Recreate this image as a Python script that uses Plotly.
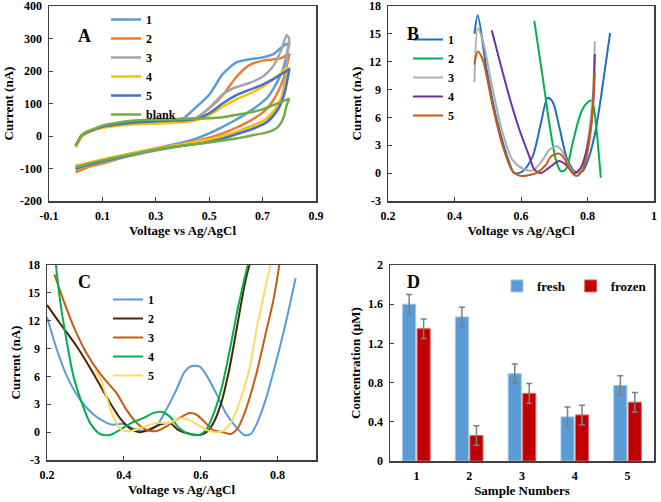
import plotly.graph_objects as go

FONT = "Liberation Serif"

# ---------------- Panel A: cyclic voltammograms ----------------
A_labels = ["1", "2", "3", "4", "5", "blank"]
A_colors = ["#5B9BD5", "#ED7D31", "#A5A5A5", "#FFC000", "#4472C4", "#70AD47"]
A_v_fwd = [0, 0.01, 0.02, 0.04, 0.07, 0.1, 0.15, 0.2, 0.25, 0.3, 0.35, 0.4, 0.45,
           0.5, 0.55, 0.6, 0.65, 0.7, 0.74, 0.77, 0.79, 0.8]
A_v_rev = [0.8, 0.79, 0.78, 0.76, 0.74, 0.72, 0.7, 0.65, 0.6, 0.55, 0.5, 0.45, 0.4,
           0.3, 0.2, 0.1, 0.05, 0.02, 0]
A1_fwd = [-30, -15, 0, 12, 22, 30, 38, 44, 48, 50, 51, 53, 88, 127, 190, 226, 236, 242, 252, 272, 283, 285]
A2_fwd = [-32, -17, -2, 10, 20, 28, 36, 42, 46, 48, 50, 52, 55, 85, 125, 180, 218, 232, 236, 240, 248, 250]
A3_fwd = [-30, -15, 0, 11, 21, 29, 37, 43, 47, 49, 51, 53, 56, 86, 128, 150, 163, 182, 215, 265, 310, 300]
A4_fwd = [-35, -20, -5, 8, 18, 25, 31, 35, 37, 38, 40, 42, 48, 65, 90, 112, 130, 152, 175, 195, 210, 208]
A5_fwd = [-30, -15, 0, 10, 20, 28, 35, 40, 43, 45, 47, 48, 52, 70, 100, 125, 142, 158, 175, 190, 200, 205]
Ab_fwd = [-30, -15, 0, 12, 22, 32, 40, 46, 49, 50, 51, 52, 53, 55, 58, 65, 72, 82, 95, 105, 112, 115]
A1_rev = [285, 250, 215, 175, 145, 120, 105, 75, 50, 28, 8, -8, -20, -38, -55, -75, -85, -95, -100]
A2_rev = [250, 215, 180, 140, 110, 88, 72, 45, 25, 8, -5, -15, -25, -42, -60, -85, -95, -105, -112]
A3_rev = [300, 230, 150, 95, 70, 55, 45, 28, 12, 0, -12, -22, -30, -45, -62, -80, -90, -98, -105]
A4_rev = [208, 175, 140, 100, 75, 58, 45, 25, 12, 0, -10, -18, -25, -38, -55, -72, -82, -88, -90]
A5_rev = [205, 160, 125, 85, 62, 45, 35, 18, 5, -8, -18, -25, -30, -42, -60, -78, -88, -95, -100]
Ab_rev = [115, 95, 60, 30, 18, 12, 8, 0, -8, -14, -20, -25, -30, -42, -58, -75, -85, -92, -95]
A_fwd = [A1_fwd, A2_fwd, A3_fwd, A4_fwd, A5_fwd, Ab_fwd]
A_rev = [A1_rev, A2_rev, A3_rev, A4_rev, A5_rev, Ab_rev]
A_xticks = [-0.1, 0.1, 0.3, 0.5, 0.7, 0.9]
A_xticktext = ["-0.1", "0.1", "0.3", "0.5", "0.7", "0.9"]
A_yticks = [-200, -100, 0, 100, 200, 300, 400]
A_yticktext = ["-200", "-100", "0", "100", "200", "300", "400"]

# ---------------- Panel B: DPV curves ----------------
B_labels = ["1", "2", "3", "4", "5"]
B_colors = ["#1F6FBF", "#00B050", "#ADADAD", "#7030A0", "#C55A11"]
B_v1 = [0.46, 0.47, 0.495, 0.525, 0.555, 0.58, 0.605, 0.635, 0.66, 0.68, 0.695, 0.715, 0.74, 0.765, 0.785, 0.805, 0.825, 0.845, 0.868]
B_i1 = [15.0, 17.0, 11.5, 6.1, 2.2, 0.0, 0.2, 1.8, 5.4, 8.1, 7.7, 5.0, 1.4, 0.1, 0.2, 1.8, 4.7, 9.3, 15.1]
B_v2 = [0.64, 0.665, 0.685, 0.705, 0.72, 0.735, 0.755, 0.78, 0.8, 0.813, 0.822, 0.84]
B_i2 = [16.4, 10.4, 5.4, 1.4, 0.2, 0.4, 3.2, 6.5, 7.6, 7.8, 6.3, -0.5]
B_v3 = [0.46, 0.47, 0.485, 0.515, 0.545, 0.575, 0.605, 0.635, 0.665, 0.685, 0.708, 0.725, 0.745, 0.765, 0.785, 0.8, 0.815, 0.822]
B_i3 = [9.8, 15.6, 14.3, 9.0, 4.3, 1.4, 0.5, 0.3, 1.4, 2.5, 2.9, 2.3, 0.7, 0.0, 0.5, 3.2, 7.9, 14.2]
B_v4 = [0.512, 0.535, 0.565, 0.595, 0.625, 0.64, 0.66, 0.685, 0.715, 0.735, 0.76, 0.78, 0.8, 0.815, 0.822]
B_i4 = [15.4, 12.2, 8.2, 4.7, 1.8, 0.4, 0.0, 0.6, 1.3, 0.9, 0.0, 0.6, 2.9, 6.5, 12.8]
B_v5 = [0.46, 0.47, 0.485, 0.515, 0.545, 0.575, 0.6, 0.625, 0.645, 0.675, 0.69, 0.715, 0.73, 0.75, 0.767, 0.785, 0.803, 0.815, 0.822]
B_i5 = [11.7, 13.1, 12.2, 7.2, 2.9, 0.2, -0.3, -0.2, 0.0, 0.9, 1.8, 2.1, 1.6, 0.2, -0.3, 0.3, 2.9, 6.5, 10.8]
B_v = [B_v1, B_v2, B_v3, B_v4, B_v5]
B_i = [B_i1, B_i2, B_i3, B_i4, B_i5]
B_xticks = [0.2, 0.4, 0.6, 0.8, 1.0]
B_xticktext = ["0.2", "0.4", "0.6", "0.8", "1"]
BC_yticks = [-3, 0, 3, 6, 9, 12, 15, 18]
BC_yticktext = ["-3", "0", "3", "6", "9", "12", "15", "18"]

# ---------------- Panel C: DPV curves ----------------
C_labels = ["1", "2", "3", "4", "5"]
C_colors = ["#5B9BD5", "#4A2506", "#C55A11", "#00B050", "#FFD966"]
C_v1 = [0.2, 0.226, 0.252, 0.286, 0.321, 0.355, 0.372, 0.398, 0.424, 0.459, 0.484, 0.51, 0.536, 0.558, 0.575,
        0.597, 0.614, 0.64, 0.666, 0.691, 0.713, 0.73, 0.747, 0.769, 0.795, 0.821, 0.847]
C_i1 = [12.4, 8.85, 6.0, 3.5, 1.9, 1.0, 0.8, 0.9, 0.4, 0.1, 0.6, 2.4, 4.5, 6.5, 7.1,
        7.05, 6.2, 4.2, 2.0, 0.6, -0.3, -0.2, 1.0, 3.5, 7.4, 11.7, 16.6]
C_v2 = [0.2, 0.234, 0.278, 0.321, 0.355, 0.39, 0.416, 0.441, 0.467, 0.493, 0.519, 0.541, 0.562, 0.597, 0.618,
        0.635, 0.653, 0.674, 0.696, 0.717, 0.74]
C_i2 = [13.7, 11.7, 9.2, 6.3, 3.8, 1.5, 0.4, 0.0, 0.3, 0.8, 1.0, 0.25, -0.1, -0.3, 0.1,
        1.15, 3.1, 6.7, 11.7, 16.4, 20.0]
C_v3 = [0.219, 0.243, 0.269, 0.303, 0.338, 0.381, 0.407, 0.433, 0.459, 0.484, 0.51, 0.536, 0.571, 0.588, 0.609,
        0.631, 0.657, 0.678, 0.696, 0.717, 0.743, 0.769, 0.791, 0.81]
C_i3 = [17.0, 14.2, 11.4, 8.5, 6.3, 4.2, 2.4, 1.0, 0.25, 0.1, 0.6, 1.3, 2.05, 1.9, 1.15,
        0.25, 0.0, -0.2, 0.4, 2.4, 6.0, 10.6, 14.6, 19.5]
C_v4 = [0.218, 0.234, 0.252, 0.269, 0.291, 0.312, 0.338, 0.364, 0.39, 0.42, 0.45, 0.476, 0.497, 0.519, 0.545,
        0.571, 0.597, 0.614, 0.631, 0.653, 0.674, 0.696, 0.717, 0.732]
C_i4 = [20.0, 14.2, 9.6, 6.0, 3.1, 1.0, -0.2, -0.3, 0.25, 1.0, 1.5, 2.05, 2.2, 1.7, 0.4,
        -0.2, -0.3, 0.25, 1.7, 4.5, 8.5, 13.2, 17.1, 19.5]
C_v5 = [0.323, 0.338, 0.355, 0.372, 0.394, 0.416, 0.441, 0.467, 0.493, 0.519, 0.549, 0.571, 0.592, 0.614, 0.635,
        0.657, 0.678, 0.7, 0.726, 0.747, 0.769, 0.79]
C_i5 = [6.7, 5.8, 3.8, 1.7, 0.25, 0.1, 0.4, 0.8, 1.0, 1.0, 1.5, 1.3, 0.8, 0.25, 0.0,
        0.1, 1.0, 3.1, 6.7, 11.4, 15.7, 19.5]
C_v = [C_v1, C_v2, C_v3, C_v4, C_v5]
C_i = [C_i1, C_i2, C_i3, C_i4, C_i5]
C_xticks = [0.2, 0.4, 0.6, 0.8]
C_xticktext = ["0.2", "0.4", "0.6", "0.8"]

# ---------------- Panel D: concentrations ----------------
D_samples = [1, 2, 3, 4, 5]
D_fresh = [1.60, 1.47, 0.89, 0.45, 0.77]
D_frozen = [1.35, 0.26, 0.69, 0.47, 0.60]
D_fresh_err = [0.10, 0.10, 0.10, 0.10, 0.10]
D_frozen_err = [0.10, 0.10, 0.10, 0.10, 0.10]
D_yticks = [0, 0.4, 0.8, 1.2, 1.6, 2]
D_yticktext = ["0", "0.4", "0.8", "1.2", "1.6", "2"]

W, H = 661, 502


def fx(px):
    return px / W


def fy(py):
    return 1 - py / H


fig = go.Figure()

for lab, col, f, r in zip(A_labels, A_colors, A_fwd, A_rev):
    fig.add_trace(go.Scatter(x=A_v_fwd + A_v_rev, y=f + r, mode="lines", name=lab,
                             line=dict(color=col, width=2.5, shape="spline", smoothing=0.6),
                             xaxis="x", yaxis="y", legend="legend"))

for lab, col, v, i in zip(B_labels, B_colors, B_v, B_i):
    fig.add_trace(go.Scatter(x=v, y=i, mode="lines", name=lab,
                             line=dict(color=col, width=2, shape="spline", smoothing=0.8),
                             xaxis="x2", yaxis="y2", legend="legend2"))

for lab, col, v, i in zip(C_labels, C_colors, C_v, C_i):
    fig.add_trace(go.Scatter(x=v, y=i, mode="lines", name=lab,
                             line=dict(color=col, width=2, shape="spline", smoothing=0.8),
                             xaxis="x3", yaxis="y3", legend="legend3"))

fig.add_trace(go.Bar(x=D_samples, y=D_fresh, name="fresh", marker=dict(color="#5B9BD5", line=dict(color="#9DC3E6", width=1)),
                     error_y=dict(type="data", array=D_fresh_err, color="#7F7F7F", thickness=1.5, width=3),
                     xaxis="x4", yaxis="y4", legend="legend4"))
fig.add_trace(go.Bar(x=D_samples, y=D_frozen, name="frozen", marker=dict(color="#C00000", line=dict(color="#E06666", width=1)),
                     error_y=dict(type="data", array=D_frozen_err, color="#7F7F7F", thickness=1.5, width=3),
                     xaxis="x4", yaxis="y4", legend="legend4"))

tickfont = dict(family=FONT, size=12, color="black", weight="bold")
titlefont = dict(family=FONT, size=13, color="black", weight="bold")


def axis(**kw):
    d = dict(showline=True, mirror=True, linecolor="#404040", linewidth=1.5,
             ticks="inside", ticklen=4, tickcolor="#404040", tickwidth=1,
             showgrid=False, zeroline=False, tickfont=tickfont, ticklabelstandoff=3,
             automargin=False, ticklabeloverflow="allow")
    d.update(kw)
    return d


fig.update_layout(
    template="none",
    width=W, height=H, margin=dict(l=0, r=0, t=0, b=0, autoexpand=False),
    paper_bgcolor="white", plot_bgcolor="white",
    font=dict(family=FONT, size=12, color="black", weight="bold"),
    hovermode=False,
    barmode="group", bargap=0.45, bargroupgap=0.1,
    xaxis=axis(domain=[fx(49), fx(316)], range=[-0.1, 0.9], tickvals=A_xticks, ticktext=A_xticktext,
               anchor="y", title=dict(text="Voltage vs Ag/AgCl", font=titlefont, standoff=4)),
    yaxis=axis(domain=[fy(201), fy(6)], range=[-200, 400], tickvals=A_yticks, ticktext=A_yticktext,
               anchor="x", title=dict(text="Current (nA)", font=titlefont, standoff=3)),
    xaxis2=axis(domain=[fx(388), fx(654)], range=[0.2, 1.0], tickvals=B_xticks, ticktext=B_xticktext,
                anchor="y2", title=dict(text="Voltage vs Ag/AgCl", font=titlefont, standoff=4)),
    yaxis2=axis(domain=[fy(201), fy(6)], range=[-3, 18], tickvals=BC_yticks, ticktext=BC_yticktext,
                anchor="x2", title=dict(text="Current (nA)", font=titlefont, standoff=4)),
    xaxis3=axis(domain=[fx(47), fx(316)], range=[0.2, 0.9], tickvals=C_xticks, ticktext=C_xticktext,
                anchor="y3", title=dict(text="Voltage vs Ag/AgCl", font=titlefont, standoff=4)),
    yaxis3=axis(domain=[fy(460), fy(265)], range=[-3, 18], tickvals=BC_yticks, ticktext=BC_yticktext,
                anchor="x3", title=dict(text="Current (nA)", font=titlefont, standoff=4)),
    xaxis4=axis(domain=[fx(390), fx(654)], range=[0.5, 5.5], tickvals=D_samples, ticktext=[str(s) for s in D_samples],
                ticks="", anchor="y4", title=dict(text="Sample Numbers", font=titlefont, standoff=4)),
    yaxis4=axis(domain=[fy(461), fy(265)], range=[0, 2], tickvals=D_yticks, ticktext=D_yticktext,
                anchor="x4", title=dict(text="Concentration (µM)", font=titlefont, standoff=4)),
    legend=dict(x=fx(106), y=fy(5), xanchor="left", yanchor="top", bgcolor="rgba(0,0,0,0)",
                font=dict(family=FONT, size=12, weight="bold"), itemwidth=30, tracegroupgap=0),
    legend2=dict(x=fx(408), y=fy(25), xanchor="left", yanchor="top", bgcolor="rgba(0,0,0,0)",
                 font=dict(family=FONT, size=12, weight="bold"), itemwidth=30, tracegroupgap=0),
    legend3=dict(x=fx(108), y=fy(285), xanchor="left", yanchor="top", bgcolor="rgba(0,0,0,0)",
                 font=dict(family=FONT, size=12, weight="bold"), itemwidth=30, tracegroupgap=0),
    legend4=dict(x=fx(652), y=fy(286), xanchor="right", yanchor="middle", orientation="h",
                 bgcolor="rgba(0,0,0,0)", font=dict(family=FONT, size=13, weight="bold"), itemwidth=30),
    showlegend=True,
)

letters = [("A", 76, 24), ("B", 413, 22), ("C", 76, 282), ("D", 413, 282)]
for t, px, py in letters:
    fig.add_annotation(text=t, x=fx(px), y=fy(py), xref="paper", yref="paper", showarrow=False,
                       font=dict(family=FONT, size=18, color="black", weight="bold"))

fig.write_html("out.html", config={"displayModeBar": False, "staticPlot": True},
               post_script="document.body.style.margin='0px';")
